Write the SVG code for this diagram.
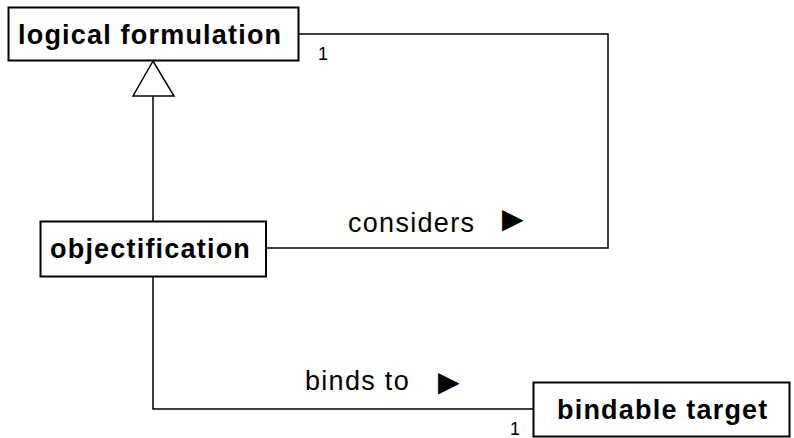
<svg xmlns="http://www.w3.org/2000/svg" width="794" height="438" viewBox="0 0 794 438">
<style>
.box{fill:#fff;stroke:#000;stroke-width:2}
.name{font-family:"Liberation Sans",Arial,sans-serif;font-weight:bold;font-size:27px;letter-spacing:1.2px;fill:#000}
.lbl{font-family:"Liberation Sans",Arial,sans-serif;font-size:27px;letter-spacing:1.3px;fill:#000}
.arr{font-size:36px;letter-spacing:0}
.mult{font-family:"Liberation Sans",Arial,sans-serif;font-size:18px;fill:#000}
.conn{fill:none;stroke:#000;stroke-width:1.5}
</style>
<rect width="794" height="438" fill="#fff"/>
<g id="connectors">
<polyline class="conn" points="299,34 608,34 608,248 266,248"/>
<line class="conn" x1="153" y1="96" x2="153" y2="221"/>
<polygon points="153,61 133,96 174,96" fill="#fff" stroke="#000" stroke-width="1.5"/>
<polyline class="conn" points="153,277 153,409 533,409"/>
<text class="mult" x="318" y="60">1</text>
<text class="mult" x="510" y="435">1</text>
<text class="lbl" x="348" y="232">considers <tspan class="arr" x="495" y="231">►</tspan></text>
<text class="lbl" x="305" y="390">binds to <tspan class="arr" x="431" y="394">►</tspan></text>
</g>
<g id="logical-formulation">
<rect class="box" x="8.5" y="7.5" width="290" height="53"/>
<text class="name" x="18" y="44">logical formulation</text>
</g>
<g id="objectification">
<rect class="box" x="40.5" y="221.5" width="225.5" height="55"/>
<text class="name" x="50" y="258">objectification</text>
</g>
<g id="bindable-target">
<rect class="box" x="533.5" y="382.5" width="256" height="54"/>
<text class="name" x="557" y="419">bindable target</text>
</g>
</svg>
